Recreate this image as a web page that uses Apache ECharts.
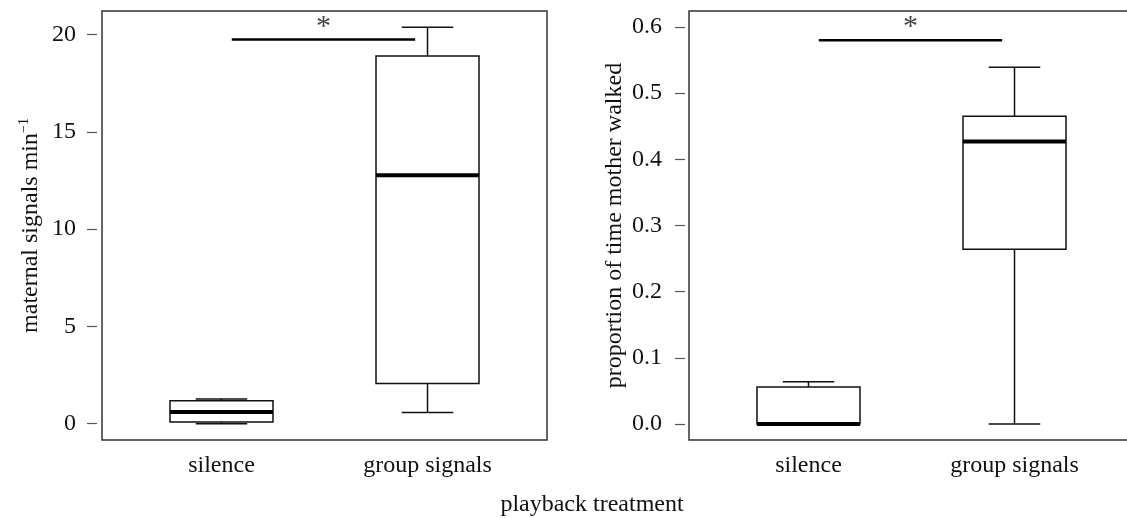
<!DOCTYPE html>
<html>
<head>
<meta charset="utf-8">
<script src="https://cdn.jsdelivr.net/npm/echarts@6/dist/echarts.min.js"></script>
<style>
  html, body { margin: 0; padding: 0; background: #fff; }
  #chart { width: 1127px; height: 518px; }
</style>
</head>
<body>
<div id="chart"></div>
<script>
// Treatment groups (x positions 1 and 2)
const categories = ['silence', 'group signals'];

// Box statistics per group: [lower whisker, Q1, median, Q3, upper whisker]
const signalStats = [
  [0, 0.08, 0.6, 1.18, 1.27],
  [0.58, 2.07, 12.77, 18.9, 20.39]
];
const signalOutliers = [[1, 4.15]];

const walkStats = [
  [0, 0, 0, 0.056, 0.064],
  [0, 0.264, 0.427, 0.465, 0.539]
];
const walkOutliers = [[1, 0.242]];

// Tick labels
const signalTicks = [0, 5, 10, 15, 20];
const walkTicks = [0, 0.1, 0.2, 0.3, 0.4, 0.5, 0.6];

// Significance bar span (group positions) and heights
const sigSpan = [1.05, 1.94];
const signalSigY = 19.75;
const walkSigY = 0.58;
const signalStarY = 20.37;
const walkStarY = 0.599;

const FONT = 'Liberation Serif';
const INK = '#111';

function boxData(stats) {
  return stats.map((s, i) => [i + 1].concat(s));
}

function renderBox(params, api) {
  const x = api.value(0);
  const lo = api.coord([x, api.value(1)]);
  const q1 = api.coord([x, api.value(2)]);
  const med = api.coord([x, api.value(3)]);
  const q3 = api.coord([x, api.value(4)]);
  const hi = api.coord([x, api.value(5)]);
  const boxW = api.size([0.5, 0])[0];
  const capW = boxW / 2;
  const cx = lo[0];
  const line = { stroke: INK, lineWidth: 1.5, fill: null };
  return {
    type: 'group',
    children: [
      { type: 'line', shape: { x1: cx, y1: lo[1], x2: cx, y2: q1[1] }, style: line },
      { type: 'line', shape: { x1: cx, y1: q3[1], x2: cx, y2: hi[1] }, style: line },
      { type: 'line', shape: { x1: cx - capW / 2, y1: lo[1], x2: cx + capW / 2, y2: lo[1] }, style: line },
      { type: 'line', shape: { x1: cx - capW / 2, y1: hi[1], x2: cx + capW / 2, y2: hi[1] }, style: line },
      { type: 'rect', shape: { x: cx - boxW / 2, y: q3[1], width: boxW, height: q1[1] - q3[1] },
        style: { stroke: INK, lineWidth: 1.5, fill: '#fff' } },
      { type: 'line', shape: { x1: cx - boxW / 2, y1: med[1], x2: cx + boxW / 2, y2: med[1] },
        style: { stroke: '#000', lineWidth: 4 } }
    ]
  };
}

function yAxisFor(gridIndex, ticks, min, max, name, nameGap, margin, fmt, offset) {
  return {
    type: 'value', gridIndex, min, max,
    offset,
    name, nameLocation: 'middle', nameGap, nameRotate: 90,
    nameTextStyle: {
      fontFamily: FONT, fontSize: 24, color: INK,
      rich: {
        t: { fontFamily: FONT, fontSize: 24, color: INK, lineHeight: 28 },
        s: { fontFamily: FONT, fontSize: 14, color: INK, verticalAlign: 'top', lineHeight: 14 }
      }
    },
    axisLine: { show: false },
    axisTick: { show: true, inside: false, length: 10, customValues: ticks, lineStyle: { color: '#555', width: 1.2 } },
    axisLabel: { show: true, customValues: ticks, margin, formatter: fmt,
      fontFamily: FONT, fontSize: 24, color: INK },
    splitLine: { show: false }
  };
}

function xAxisFor(gridIndex) {
  return {
    type: 'value', gridIndex, min: 0.42, max: 2.58,
    axisLine: { show: false },
    axisTick: { show: false },
    splitLine: { show: false },
    axisLabel: { show: true, customValues: [1, 2], margin: 14,
      formatter: v => categories[Math.round(v) - 1] || '',
      fontFamily: FONT, fontSize: 24, color: INK }
  };
}

function sigSeries(idx, y, starY) {
  return [
    { type: 'line', xAxisIndex: idx, yAxisIndex: idx, symbol: 'none', silent: true,
      data: [[sigSpan[0], y], [sigSpan[1], y]],
      lineStyle: { color: '#000', width: 2.5 }, z: 5 },
    { type: 'scatter', xAxisIndex: idx, yAxisIndex: idx, symbolSize: 0, silent: true,
      data: [[(sigSpan[0] + sigSpan[1]) / 2, starY]],
      label: { show: true, position: 'inside', formatter: '*', fontFamily: FONT,
        fontSize: 30, color: INK }, z: 5 }
  ];
}

const gridBase = { top: 11, width: 445, height: 429, show: true, borderColor: '#333',
  borderWidth: 1.5, backgroundColor: 'transparent', containLabel: false, outerBoundsMode: 'none' };

const chart = echarts.init(document.getElementById('chart'), null, { renderer: 'canvas' });
chart.setOption({
  animation: false,
  backgroundColor: '#fff',
  grid: [
    Object.assign({ left: 102 }, gridBase),
    Object.assign({ left: 689 }, gridBase)
  ],
  xAxis: [xAxisFor(0), xAxisFor(1)],
  yAxis: [
    yAxisFor(0, signalTicks, -0.84, 21.22, '{t|maternal signals min}{s|−1}', 52, 21, v => String(v), 5),
    yAxisFor(1, walkTicks, -0.024, 0.624, 'proportion of time mother walked', 58, 23, v => v.toFixed(1), 4)
  ],
  graphic: [
    { type: 'text', x: 592, y: 505,
      style: { text: 'playback treatment', fontFamily: FONT, fontSize: 24, fill: INK,
        textAlign: 'center', textVerticalAlign: 'middle' } }
  ],
  series: [
    { type: 'custom', xAxisIndex: 0, yAxisIndex: 0, renderItem: renderBox, data: boxData(signalStats), z: 3 },
    { type: 'scatter', xAxisIndex: 0, yAxisIndex: 0, symbol: 'emptyCircle', symbolSize: 12,
      itemStyle: { color: '#fff', borderColor: INK, borderWidth: 1.5 }, data: signalOutliers, z: 4 },
    { type: 'custom', xAxisIndex: 1, yAxisIndex: 1, renderItem: renderBox, data: boxData(walkStats), z: 3 },
    { type: 'scatter', xAxisIndex: 1, yAxisIndex: 1, symbol: 'emptyCircle', symbolSize: 12,
      itemStyle: { color: '#fff', borderColor: INK, borderWidth: 1.5 }, data: walkOutliers, z: 4 },
    ...sigSeries(0, signalSigY, signalStarY),
    ...sigSeries(1, walkSigY, walkStarY)
  ]
});
</script>
</body>
</html>
